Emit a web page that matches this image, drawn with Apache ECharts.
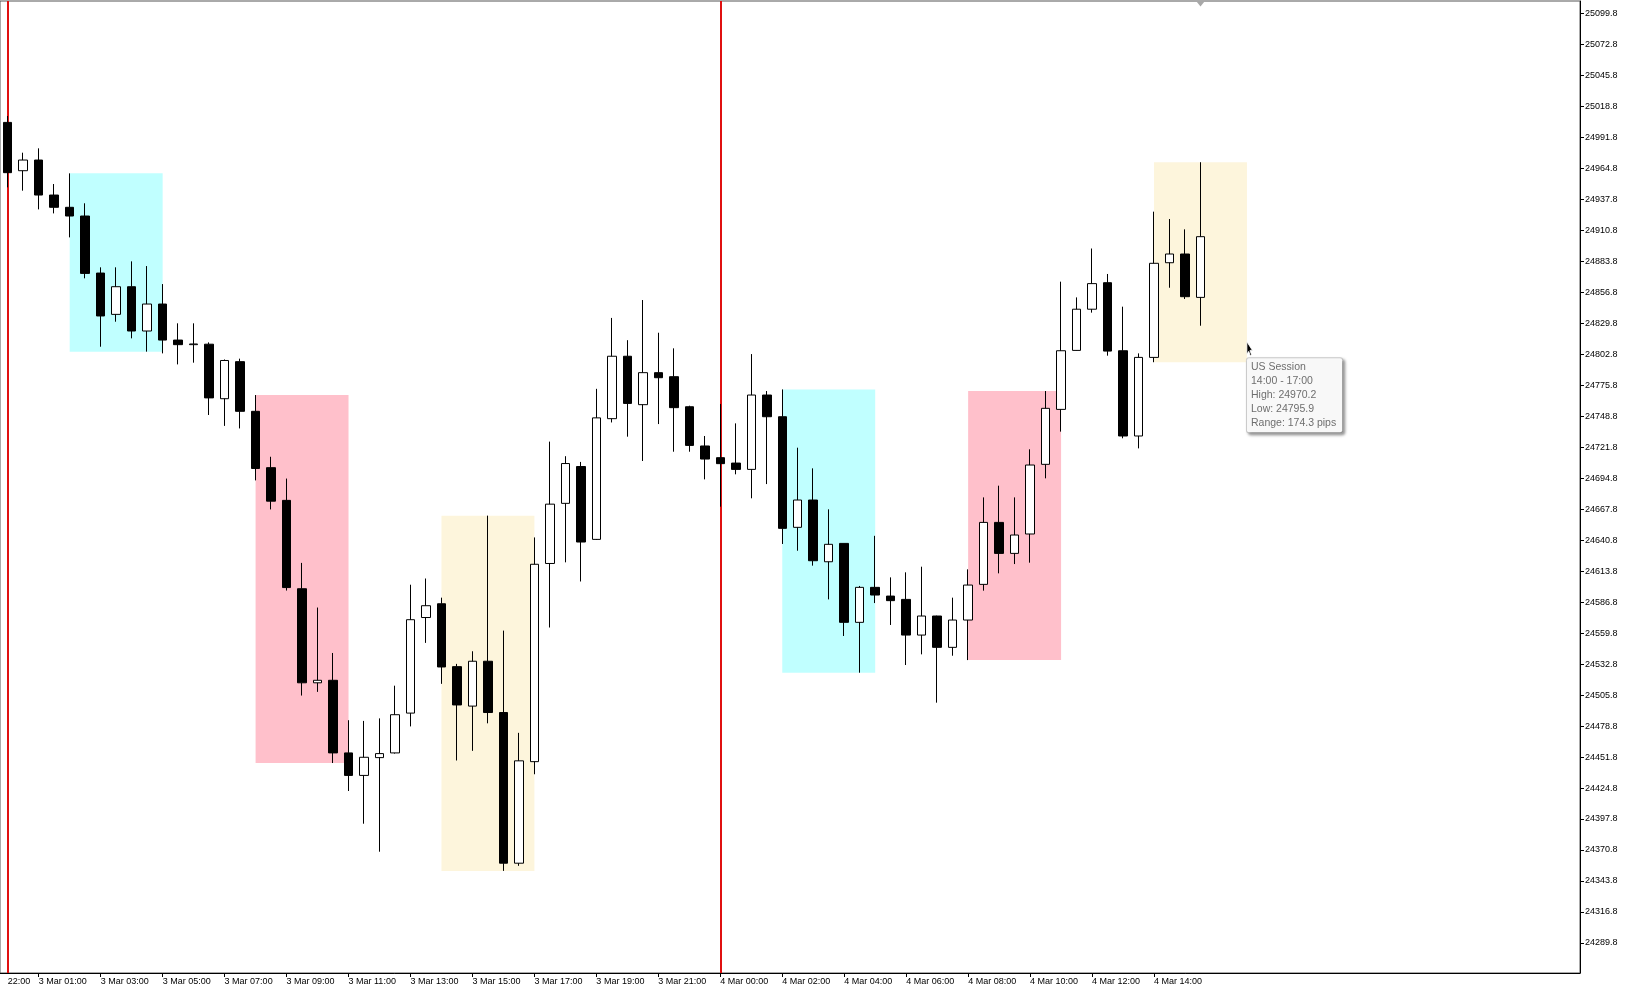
<!DOCTYPE html>
<html>
<head>
<meta charset="utf-8">
<script src="https://cdn.jsdelivr.net/npm/echarts@6/dist/echarts.min.js"></script>
<style>
html,body{margin:0;padding:0;background:#fff;}
#chart{width:1630px;height:993px;}
</style>
</head>
<body>
<div id="chart"></div>
<script>
// ---- categories: 30-minute bars, market open 00:00-23:00 ----
const days = ['3 Mar', '4 Mar', '5 Mar'];
const barClock = [];
for (let h = 0; h < 23; h++) {
  const hh = (h < 10 ? '0' : '') + h;
  barClock.push(hh + ':00', hh + ':30');
}
const categories = [];
days.forEach(d => barClock.forEach(t => categories.push(d + ' ' + t)));
categories.length = 102;

// ---- OHLC values ----
const opens = [
  25004.9, 24962.8, 24972.1, 24941.6, 24930.9, 24923.3, 24873.6, 24837.6, 24861.7, 24823.1,
  24846.6, 24815.2, 24811.2, 24811.6, 24764.1, 24796.4, 24753.1, 24704.0, 24675.5, 24598.5,
  24516.5, 24518.7, 24455.4, 24435.8, 24451.3, 24455.4, 24490.1, 24573.4, 24585.4, 24530.6,
  24496.2, 24535.3, 24490.6, 24359.3, 24447.8, 24620.5, 24672.9, 24705.0, 24641.5, 24746.7,
  24801.1, 24758.9, 24786.8, 24783.3, 24757.1, 24722.9, 24712.7, 24708.0, 24702.5, 24767.3,
  24748.4, 24652.0, 24675.8, 24622.0, 24638.0, 24569.2, 24599.7, 24592.1, 24589.2, 24558.1,
  24574.7, 24547.4, 24571.2, 24602.3, 24656.3, 24629.3, 24646.2, 24706.9, 24754.8, 24806.2,
  24842.1, 24865.2, 24805.9, 24731.6, 24800.1, 24882.6, 24890.2, 24852.4
];
const highs = [
  25010.5, 24978.5, 24982.3, 24951.2, 24960.5, 24934.4, 24878.6, 24878.6, 24883.8, 24879.7,
  24864.0, 24829.8, 24829.8, 24813.2, 24798.3, 24799.0, 24767.3, 24713.5, 24694.5, 24621.0,
  24582.1, 24542.5, 24483.9, 24483.3, 24485.5, 24514.0, 24602.0, 24607.4, 24590.7, 24533.0,
  24544.0, 24662.2, 24562.0, 24472.9, 24643.2, 24726.7, 24714.0, 24709.0, 24772.7, 24834.5,
  24815.1, 24850.1, 24821.6, 24808.0, 24758.0, 24731.6, 24759.5, 24742.6, 24803.0, 24770.8,
  24772.2, 24721.4, 24703.4, 24667.7, 24638.0, 24600.9, 24644.6, 24608.4, 24612.8, 24617.7,
  24575.0, 24590.7, 24615.4, 24678.1, 24688.3, 24678.1, 24720.0, 24770.8, 24866.1, 24852.4,
  24895.0, 24872.8, 24844.3, 24803.6, 24927.1, 24920.7, 24911.7, 24970.2
];
const lows = [
  24948.3, 24945.4, 24929.1, 24925.6, 24904.7, 24869.0, 24809.4, 24831.2, 24816.7, 24805.1,
  24803.6, 24794.0, 24795.5, 24749.9, 24740.4, 24738.2, 24692.9, 24667.6, 24596.9, 24505.4,
  24508.6, 24446.6, 24422.2, 24393.7, 24369.3, 24454.8, 24478.5, 24551.3, 24515.6, 24448.8,
  24457.2, 24481.2, 24352.6, 24357.0, 24436.8, 24564.7, 24621.5, 24604.8, 24641.0, 24743.4,
  24731.0, 24709.8, 24742.0, 24717.9, 24717.9, 24693.8, 24670.0, 24698.2, 24677.3, 24689.7,
  24637.5, 24631.6, 24618.6, 24589.2, 24557.3, 24525.3, 24586.0, 24566.9, 24532.0, 24541.3,
  24499.2, 24540.1, 24536.3, 24596.8, 24611.9, 24620.0, 24621.2, 24694.7, 24735.4, 24806.0,
  24839.1, 24801.6, 24729.6, 24720.8, 24795.9, 24860.8, 24851.0, 24827.7
];
const closes = [
  24961.1, 24972.1, 24941.6, 24930.9, 24923.3, 24873.3, 24836.2, 24861.7, 24823.1, 24846.6,
  24815.2, 24811.2, 24811.8, 24764.8, 24797.4, 24753.1, 24703.3, 24674.8, 24599.5, 24516.5,
  24518.7, 24455.4, 24435.8, 24451.6, 24454.8, 24488.7, 24571.5, 24583.7, 24530.3, 24497.2,
  24535.3, 24490.6, 24359.3, 24448.5, 24619.8, 24672.2, 24707.6, 24639.2, 24747.4, 24801.1,
  24760.0, 24786.8, 24782.4, 24756.3, 24723.4, 24711.5, 24707.5, 24702.5, 24767.3, 24748.4,
  24651.1, 24675.8, 24622.9, 24637.2, 24569.2, 24599.7, 24593.0, 24588.1, 24558.1, 24574.7,
  24547.4, 24571.2, 24601.7, 24656.3, 24629.3, 24645.3, 24706.3, 24755.7, 24805.9, 24842.1,
  24864.4, 24805.6, 24731.6, 24800.1, 24882.1, 24890.2, 24853.0, 24905.3
];

// ---- price axis tick labels ----
const yTickValues = [
  24289.8, 24316.8, 24343.8, 24370.8, 24397.8, 24424.8, 24451.8, 24478.8, 24505.8, 24532.8,
  24559.8, 24586.8, 24613.8, 24640.8, 24667.8, 24694.8, 24721.8, 24748.8, 24775.8, 24802.8,
  24829.8, 24856.8, 24883.8, 24910.8, 24937.8, 24964.8, 24991.8, 25018.8, 25045.8, 25072.8,
  25099.8
];

// ---- time axis labels ----
const firstTimeLabel = '22:00';
const xTickLabels = [
  '3 Mar 01:00', '3 Mar 03:00', '3 Mar 05:00', '3 Mar 07:00', '3 Mar 09:00', '3 Mar 11:00',
  '3 Mar 13:00', '3 Mar 15:00', '3 Mar 17:00', '3 Mar 19:00', '3 Mar 21:00',
  '4 Mar 00:00', '4 Mar 02:00', '4 Mar 04:00', '4 Mar 06:00', '4 Mar 08:00', '4 Mar 10:00',
  '4 Mar 12:00', '4 Mar 14:00'
];

// ---- sessions ----
const sessionStarts = ['3 Mar 02:00', '3 Mar 08:00', '3 Mar 14:00', '4 Mar 02:00', '4 Mar 08:00', '4 Mar 14:00'];
const sessionEnds   = ['3 Mar 05:00', '3 Mar 11:00', '3 Mar 17:00', '4 Mar 05:00', '4 Mar 11:00', '4 Mar 17:00'];
const sessionColors = ['#c0ffff', '#ffc0cb', '#fdf5dc', '#c0ffff', '#ffc0cb', '#fdf5dc'];
const daySeparators = ['3 Mar 00:00', '4 Mar 00:00'];
const hoverSession = 5;
const hoverName = 'US Session';
const hoverHours = '14:00 - 17:00';

// ---- build ----
const ohlc = opens.map((o, i) => [o, closes[i], lows[i], highs[i]]);

function sessionRange(k) {
  const a = categories.indexOf(sessionStarts[k]);
  const b = categories.indexOf(sessionEnds[k]);
  let hi = -Infinity, lo = Infinity;
  for (let i = a; i < b && i < ohlc.length; i++) {
    hi = Math.max(hi, highs[i]);
    lo = Math.min(lo, lows[i]);
  }
  return [hi, lo];
}

const areas = sessionStarts.map((s, k) => {
  const [hi, lo] = sessionRange(k);
  return [
    { xAxis: s, yAxis: hi, itemStyle: { color: sessionColors[k], opacity: 1 } },
    { xAxis: sessionEnds[k], yAxis: lo }
  ];
});

const [hvHigh, hvLow] = sessionRange(hoverSession);
const hoverText = [
  hoverName,
  hoverHours,
  'High: ' + hvHigh.toFixed(1),
  'Low: ' + hvLow.toFixed(1),
  'Range: ' + (hvHigh - hvLow).toFixed(1) + ' pips'
].join('\n');

const labelIdx = new Set(xTickLabels.map(l => categories.indexOf(l)));
const fontFam = 'Liberation Sans, Arial, sans-serif';

const yMin = 24263.6, yMax = 25110.7;

const chart = echarts.init(document.getElementById('chart'), null, { renderer: 'canvas' });
chart.setOption({
  animation: false,
  backgroundColor: '#ffffff',
  grid: {
    left: 0, right: 50, top: 1, bottom: 20,
    show: true, borderColor: '#555555', borderWidth: 1, backgroundColor: '#ffffff'
  },
  xAxis: {
    type: 'category',
    data: categories,
    boundaryGap: true,
    axisLine: { show: true, lineStyle: { color: '#000', width: 1 } },
    axisTick: {
      show: true, alignWithLabel: true, length: 4,
      interval: (i) => labelIdx.has(i),
      lineStyle: { color: '#000' }
    },
    axisLabel: {
      interval: (i) => i === 0 || labelIdx.has(i),
      formatter: (v, i) => (i === 0 ? firstTimeLabel : v),
      align: 'left',
      margin: 4,
      fontSize: 9,
      color: '#000',
      fontFamily: fontFam
    },
    splitLine: { show: false }
  },
  yAxis: {
    type: 'value',
    position: 'right',
    min: yMin, max: yMax,
    axisLine: { show: true, lineStyle: { color: '#000', width: 1 } },
    axisTick: { show: true, length: 4, customValues: yTickValues, lineStyle: { color: '#000' } },
    axisLabel: {
      customValues: yTickValues,
      formatter: (v) => Number(v).toFixed(1),
      margin: 5,
      fontSize: 9,
      color: '#000',
      fontFamily: fontFam
    },
    splitLine: { show: false }
  },
  series: [
    {
      type: 'line',
      data: [],
      z: 1,
      silent: true,
      markArea: { silent: true, data: areas },
      markLine: {
        silent: true,
        symbol: ['none', 'none'],
        label: { show: false },
        lineStyle: { color: '#e01010', width: 2, type: 'solid' },
        data: daySeparators.map(d => ({ xAxis: d }))
      }
    },
    {
      type: 'candlestick',
      data: ohlc,
      zlevel: 1,
      z: 3,
      barWidth: 9,
      itemStyle: {
        color: '#ffffff', color0: '#000000',
        borderColor: '#000000', borderColor0: '#000000', borderWidth: 1
      }
    },
    {
      type: 'line',
      data: [],
      zlevel: 2,
      z: 5,
      silent: true,
      markPoint: {
        silent: true,
        data: [
          {
            coord: [sessionEnds[hoverSession], hvLow],
            symbol: 'rect', symbolSize: 0,
            label: {
              show: true,
              position: [0, -4],
              formatter: hoverText,
              fontSize: 10.5,
              lineHeight: 14,
              color: '#6e6e6e',
              fontFamily: fontFam,
              backgroundColor: '#f8f8f8',
              borderColor: '#cccccc',
              borderWidth: 1,
              borderRadius: 2,
              padding: [2, 6, 2, 4],
              shadowColor: 'rgba(0,0,0,0.35)',
              shadowBlur: 3,
              shadowOffsetX: 2,
              shadowOffsetY: 2
            }
          },
          {
            coord: [sessionEnds[hoverSession], hvLow],
            symbol: 'path://M0,0 L0,13 L3,10 L5.5,14.5 L7.5,13.5 L5,9 L9,9 Z',
            symbolSize: [9, 14],
            symbolKeepAspect: true,
            symbolOffset: [2.7, -13.5],
            itemStyle: { color: '#000', borderColor: '#fff', borderWidth: 0.8 },
            label: { show: false }
          },
          {
            coord: [categories[ohlc.length - 1], yMax],
            symbol: 'triangle', symbolRotate: 180, symbolSize: [8, 5],
            symbolOffset: [0, 3],
            itemStyle: { color: '#a8a8a8' },
            label: { show: false }
          }
        ]
      }
    }
  ]
});
</script>
</body>
</html>
